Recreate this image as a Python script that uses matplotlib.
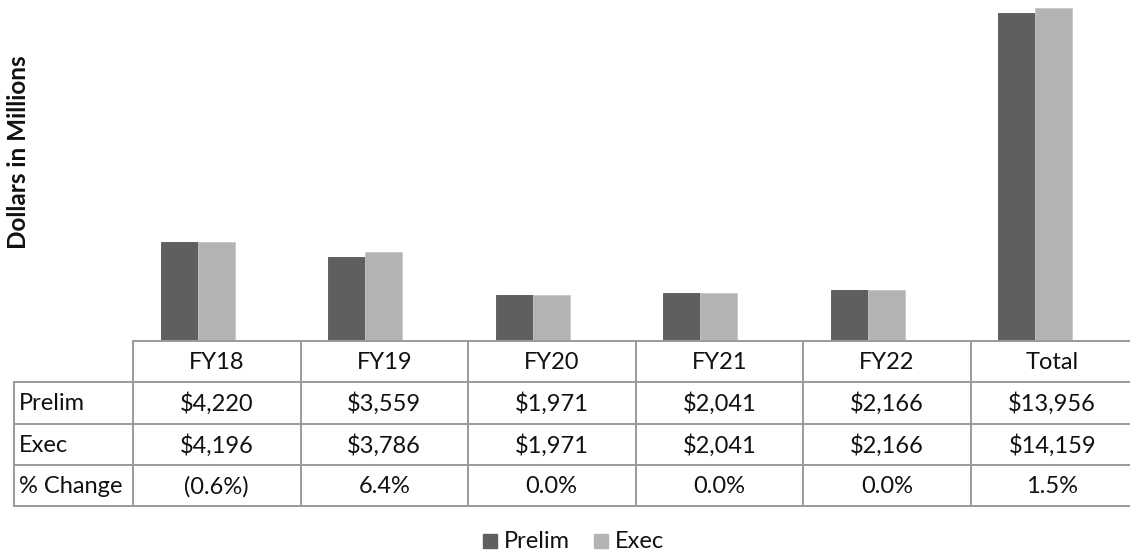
import numpy as np
import matplotlib
matplotlib.use("Agg")
import matplotlib.pyplot as plt
from matplotlib.patches import Rectangle

plt.rcParams['font.family'] = ['Lato', 'DejaVu Sans']

# data
categories = ["FY18", "FY19", "FY20", "FY21", "FY22", "Total"]
prelim = [4220, 3559, 1971, 2041, 2166, 13956]
exec_ = [4196, 3786, 1971, 2041, 2166, 14159]
pct_change = ["(0.6%)", "6.4%", "0.0%", "0.0%", "0.0%", "1.5%"]
row_labels = ["Prelim", "Exec", "% Change"]

c_prelim = "#5f5f5f"
c_exec = "#b3b3b3"
c_grid = "#9a9a9a"

W, H = 1130, 555
fig = plt.figure(figsize=(W / 100, H / 100), dpi=100)

# pixel layout
x0, col_w = 133, 167.5
base_y = 341
row_h = 41.3

# bar axes (spans the same columns as the table)
ax = fig.add_axes([x0 / W, (H - base_y) / H, 6 * col_w / W, base_y / H])
x = np.arange(len(categories))
shift = -19 / col_w
bw = 0.22
ax.bar(x + shift - bw / 2, prelim, bw, color=c_prelim, edgecolor="#555555", linewidth=0.6, label="Prelim")
ax.bar(x + shift + bw / 2, exec_, bw, color=c_exec, edgecolor="#c8c8c8", linewidth=0.6, label="Exec")
ax.set_xlim(-0.5, len(categories) - 0.5)
ax.set_ylim(0, max(exec_) * base_y / 333)
ax.axis('off')

# overlay axes in pixel coordinates for the data table
tx = fig.add_axes([0, 0, 1, 1])
tx.set_xlim(0, W)
tx.set_ylim(H, 0)
tx.axis('off')

col_edges = [x0 + k * col_w for k in range(len(categories) + 1)]
row_edges = [base_y + k * row_h for k in range(5)]
lw = 1.4
fs = 17

# horizontal lines
tx.plot([x0, W], [row_edges[0]] * 2, color=c_grid, lw=lw)
for y in row_edges[1:]:
    tx.plot([14, W], [y, y], color=c_grid, lw=lw)
# vertical lines
tx.plot([14, 14], [row_edges[1], row_edges[4]], color=c_grid, lw=lw)
for xe in col_edges:
    tx.plot([xe, xe], [row_edges[0], row_edges[4]], color=c_grid, lw=lw)

cell_rows = [
    categories,
    ["${:,}".format(v) for v in prelim],
    ["${:,}".format(v) for v in exec_],
    pct_change,
]
for r, vals in enumerate(cell_rows):
    yc = (row_edges[r] + row_edges[r + 1]) / 2 + 1
    for c, v in enumerate(vals):
        xc = (col_edges[c] + col_edges[c + 1]) / 2
        if c == len(vals) - 1:
            xc = (col_edges[c] + W) / 2 + 2
        tx.text(xc, yc, v, ha='center', va='center', fontsize=fs, color="#111111")
    if r > 0:
        tx.text(19, yc, row_labels[r - 1], ha='left', va='center', fontsize=fs, color="#111111")

# y label
tx.text(19, 152, "Dollars in Millions", rotation=90, ha='center', va='center',
        fontsize=17.5, fontweight='bold', color="#111111")

# legend
leg_y = 541
for lx, col, lab in [(483, c_prelim, "Prelim"), (594, c_exec, "Exec")]:
    tx.add_patch(Rectangle((lx, leg_y - 7), 14, 14, color=col))
    tx.text(lx + 21, leg_y, lab, ha='left', va='center', fontsize=fs, color="#111111")

fig.savefig("out.png", dpi=100)
